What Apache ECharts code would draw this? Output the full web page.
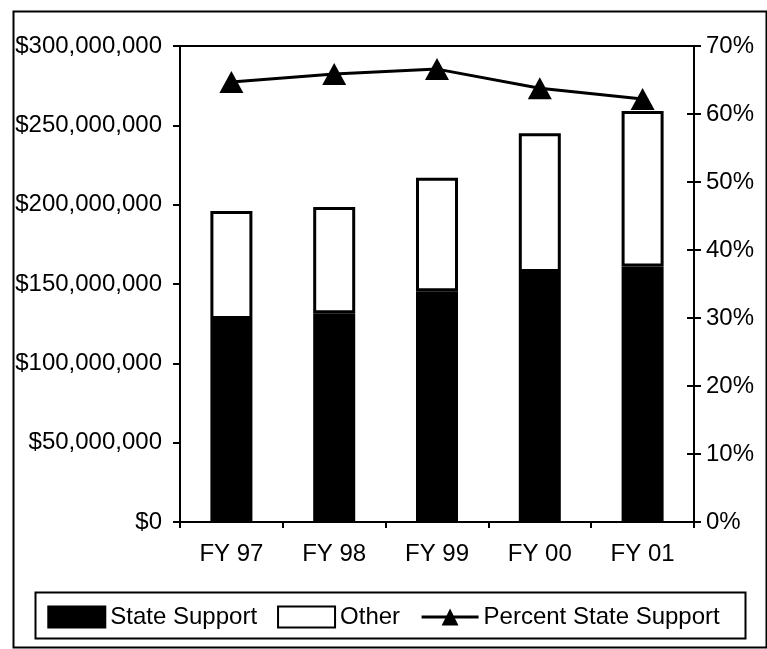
<!DOCTYPE html>
<html>
<head>
<meta charset="utf-8">
<script src="https://cdn.jsdelivr.net/npm/echarts@6/dist/echarts.min.js"></script>
<style>
  html, body { margin: 0; padding: 0; background: #fff; }
  #chart { width: 767px; height: 649px; }
</style>
</head>
<body>
<div id="chart"></div>
<script>
// fiscal years on the x axis
const categories = ['FY 97', 'FY 98', 'FY 99', 'FY 00', 'FY 01']
// dollars
const stateSupport = [128000000, 131500000, 145500000, 157500000, 161000000]
const otherFunds   = [68000000, 67000000, 71500000, 87500000, 98000000]
// percent
const percentState = [64.7, 65.9, 66.6, 63.8, 62.2]

const FONT = 'Liberation Sans, Arial, sans-serif'
const FS = 24
const chart = echarts.init(document.getElementById('chart'), null, { renderer: 'canvas' })

function money(v) {
  return '$' + String(v).replace(/\B(?=(\d{3})+(?!\d))/g, ',')
}

chart.setOption({
  backgroundColor: '#fff',
  animation: false,
  textStyle: { fontFamily: FONT, color: '#000' },
  graphic: [
    // outer frame
    { type: 'rect', left: 11, top: 9, shape: { width: 753, height: 636 },
      style: { fill: 'none', stroke: '#000', lineWidth: 2 }, silent: true },
    // legend frame
    { type: 'rect', left: 33, top: 590, shape: { width: 710, height: 46 },
      style: { fill: 'none', stroke: '#000', lineWidth: 2 }, silent: true }
  ],
  grid: {
    left: 180, right: 73, top: 46, bottom: 127,
    show: true, borderColor: '#000', borderWidth: 2
  },
  legend: {
    left: 'center', top: 600,
    itemWidth: 57, itemHeight: 21, itemGap: 20,
    textStyle: { fontFamily: FONT, fontSize: FS, color: '#000' },
    data: [
      { name: 'State Support', icon: 'rect' },
      { name: 'Other', icon: 'rect' },
      { name: 'Percent State Support', lineStyle: { width: 3 } }
    ]
  },
  xAxis: {
    type: 'category',
    data: categories,
    axisLine: { lineStyle: { color: '#000', width: 2 } },
    axisTick: { show: true, length: 6, lineStyle: { color: '#000', width: 2 } },
    axisLabel: { fontFamily: FONT, fontSize: FS, color: '#000', margin: 20 }
  },
  yAxis: [
    {
      type: 'value', min: 0, max: 300000000, interval: 50000000,
      axisLine: { show: true, lineStyle: { color: '#000', width: 2 } },
      axisTick: { show: true, length: 7, lineStyle: { color: '#000', width: 2 } },
      splitLine: { show: false },
      axisLabel: { fontFamily: FONT, fontSize: FS, color: '#000', margin: 18, formatter: money }
    },
    {
      type: 'value', min: 0, max: 70, interval: 10, position: 'right',
      axisLine: { show: true, lineStyle: { color: '#000', width: 2 } },
      axisTick: { show: true, length: 7, lineStyle: { color: '#000', width: 2 } },
      splitLine: { show: false },
      axisLabel: { fontFamily: FONT, fontSize: FS, color: '#000', margin: 12, formatter: '{value}%' }
    },
    {
      // inner half of the crossing ticks on the right axis
      type: 'value', min: 0, max: 70, interval: 10, position: 'right',
      axisLine: { show: false },
      axisTick: { show: true, inside: true, length: 7, lineStyle: { color: '#000', width: 2 } },
      splitLine: { show: false },
      axisLabel: { show: false }
    }
  ],
  series: [
    {
      name: 'State Support', type: 'bar', stack: 'total', barWidth: 42,
      data: stateSupport,
      itemStyle: { color: '#000', borderColor: '#000', borderWidth: 2 }
    },
    {
      name: 'Other', type: 'bar', stack: 'total', barWidth: 42,
      data: otherFunds,
      itemStyle: { color: '#fff', borderColor: '#000', borderWidth: 3 }
    },
    {
      name: 'Percent State Support', type: 'line', yAxisIndex: 1,
      data: percentState,
      symbol: 'triangle', symbolSize: [24, 22],
      lineStyle: { color: '#000', width: 3 },
      itemStyle: { color: '#000' }
    }
  ]
})
</script>
</body>
</html>
